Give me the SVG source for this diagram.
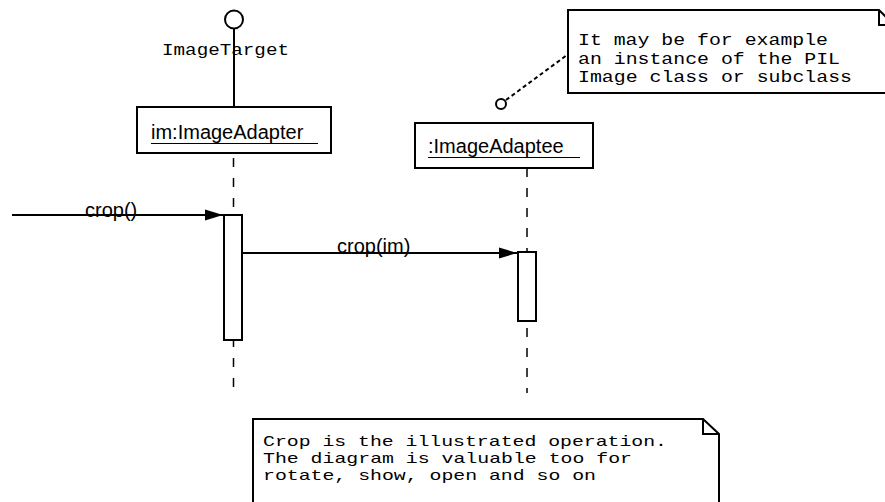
<svg xmlns="http://www.w3.org/2000/svg" width="885" height="502" viewBox="0 0 885 502">
<style>
.box{fill:#fff;stroke:#000;stroke-width:2}
.line{fill:none;stroke:#000;stroke-width:2}
.life{fill:none;stroke:#000;stroke-width:1.5;stroke-dasharray:9 11}
.sans{font-family:"Liberation Sans",Arial,sans-serif;font-size:20px;fill:#000}
.mono{font-family:"Liberation Mono","Courier New",monospace;font-size:16.5px;fill:#000}
.mono2{font-family:"Liberation Mono","Courier New",monospace;font-size:15px;fill:#000}
</style>
<defs>
<marker id="arr" markerWidth="20" markerHeight="12" refX="18" refY="6" orient="auto" markerUnits="userSpaceOnUse">
<path d="M0,0.5 L18,6 L0,11.5 Z" fill="#000"/>
</marker>
</defs>
<rect width="885" height="502" fill="#fff"/>
<g id="lifelines">
<line class="life" x1="233.5" y1="158" x2="233.5" y2="390"/>
<line class="life" x1="527" y1="168" x2="527" y2="393"/>
</g>
<g id="ImageTarget">
<circle cx="234" cy="19.5" r="9" class="line"/>
<line class="line" x1="234" y1="28.5" x2="234" y2="107"/>
<text class="mono" x="162" y="55" textLength="127" lengthAdjust="spacingAndGlyphs">ImageTarget</text>
</g>
<g id="ImageAdapter">
<rect class="box" x="137" y="107" width="194" height="46"/>
<text class="sans" x="151" y="139">im:ImageAdapter</text>
<line x1="151" y1="143.5" x2="318" y2="143.5" stroke="#000" stroke-width="1.2"/>
<rect class="box" x="224" y="215" width="18" height="125"/>
</g>
<g id="ImageAdaptee">
<rect class="box" x="415" y="123" width="178" height="45"/>
<text class="sans" x="428" y="153">:ImageAdaptee</text>
<line x1="428" y1="157.5" x2="580" y2="157.5" stroke="#000" stroke-width="1.2"/>
<rect class="box" x="518" y="252" width="18" height="69"/>
<circle cx="501" cy="104" r="5" class="line"/>
</g>
<g id="note1">
<path class="box" d="M568,10 H879 L896,27 V93 H568 Z"/>
<path class="line" d="M879,10 V25 H896" stroke-width="1.5"/>
<text class="mono" x="578" y="45" textLength="250" lengthAdjust="spacingAndGlyphs">It may be for example</text>
<text class="mono" x="578" y="63.5" textLength="262" lengthAdjust="spacingAndGlyphs">an instance of the PIL</text>
<text class="mono" x="578" y="82" textLength="274" lengthAdjust="spacingAndGlyphs">Image class or subclass</text>
</g>
<g id="note2">
<path class="box" d="M253,419 H703 L719,434 V510 H253 Z"/>
<path class="line" d="M703,419 V434 H719" stroke-width="1.5"/>
<text class="mono2" x="263" y="446" textLength="404" lengthAdjust="spacingAndGlyphs">Crop is the illustrated operation.</text>
<text class="mono2" x="263" y="463" textLength="369" lengthAdjust="spacingAndGlyphs">The diagram is valuable too for</text>
<text class="mono2" x="263" y="480" textLength="333" lengthAdjust="spacingAndGlyphs">rotate, show, open and so on</text>
</g>
<g id="connectors">
<line class="line" x1="12" y1="215" x2="223" y2="215" marker-end="url(#arr)"/>
<text class="sans" x="85" y="217">crop()</text>
<line class="line" x1="242" y1="253" x2="517" y2="253" marker-end="url(#arr)"/>
<text class="sans" x="337" y="253">crop(im)</text>
<line x1="506" y1="100" x2="567" y2="55" stroke="#000" stroke-width="2" stroke-dasharray="4 3"/>
</g>
</svg>
